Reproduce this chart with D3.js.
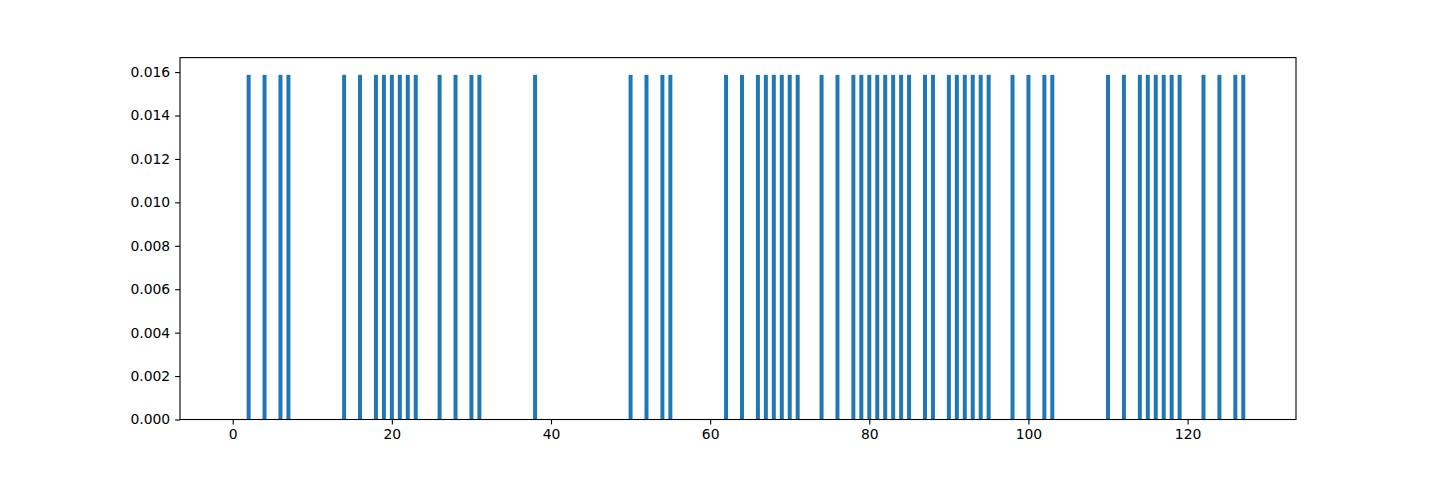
<!DOCTYPE html>
<html>
<head>
<meta charset="utf-8">
<script src="https://cdn.jsdelivr.net/npm/d3@7"></script>
<style>
  body { margin: 0; background: #fff; }
  svg { display: block; }
  text { font-family: "DejaVu Sans", sans-serif; }
</style>
</head>
<body>
<svg id="chart" width="1440" height="480"></svg>
<script>
const positions = [2,4,6,7,14,16,18,19,20,21,22,23,26,28,30,31,38,50,52,54,55,
  62,64,66,67,68,69,70,71,74,76,78,79,80,81,82,83,84,85,87,88,90,91,92,93,94,95,
  98,100,102,103,110,112,114,115,116,117,118,119,122,124,126,127];
const values = positions.map(() => 1/63);
const xTicks = [0,20,40,60,80,100,120];
const yTicks = [0,0.002,0.004,0.006,0.008,0.010,0.012,0.014,0.016];

const plotLeft = 180, plotRight = 1296, plotTop = 57.6, plotBottom = 419.5;
const barWidth = 0.5;

const svg = d3.select("#chart");
const x = d3.scaleLinear().domain([-6.625, 133.625]).range([plotLeft, plotRight]);
const y = d3.scaleLinear().domain([0, (1/63)*1.05]).range([plotBottom, plotTop]);

svg.append("g").selectAll("rect").data(positions).join("rect")
  .attr("x", (d) => x(d - barWidth/2))
  .attr("width", (d) => x(d + barWidth/2) - x(d - barWidth/2))
  .attr("y", (d, i) => y(values[i]))
  .attr("height", (d, i) => y(0) - y(values[i]))
  .attr("fill", "#1f77b4");

const xAxis = d3.axisBottom(x).tickValues(xTicks).tickFormat(d3.format("d")).tickSize(4.9).tickPadding(4.9);
const yAxis = d3.axisLeft(y).tickValues(yTicks).tickFormat(d3.format(".3f")).tickSize(4.9).tickPadding(4.9);

const gx = svg.append("g").attr("transform", `translate(0,${plotBottom})`).call(xAxis);
const gy = svg.append("g").attr("transform", `translate(${plotLeft},0)`).call(yAxis);
[gx, gy].forEach(g => {
  g.select(".domain").remove();
  g.selectAll(".tick line").attr("stroke", "#000").attr("stroke-width", 1.1);
  g.selectAll(".tick text").attr("font-size", "13.9px").attr("fill", "#000").attr("font-family", "DejaVu Sans, sans-serif");
});

svg.append("rect")
  .attr("x", plotLeft).attr("y", plotTop)
  .attr("width", plotRight - plotLeft).attr("height", plotBottom - plotTop)
  .attr("fill", "none").attr("stroke", "#000").attr("stroke-width", 1.1);
</script>
</body>
</html>
